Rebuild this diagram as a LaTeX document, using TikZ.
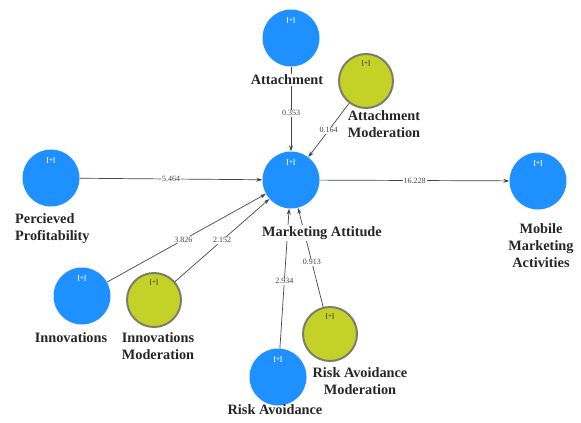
\documentclass[tikz,border=0pt]{standalone}
\usepackage{fontspec}
\setmainfont{Liberation Serif}
\usetikzlibrary{arrows.meta}
\definecolor{lvblue}{RGB}{30,144,255}
\definecolor{lvolive}{RGB}{196,210,40}
\definecolor{lvrim}{RGB}{125,125,105}
\definecolor{lvline}{RGB}{70,70,70}
\tikzset{
  latent/.style={circle,fill=lvblue,minimum size=57pt,inner sep=0pt},
  modvar/.style={circle,fill=lvolive,draw=lvrim,line width=2pt,minimum size=54pt,inner sep=0pt},
  lbl/.style={font=\bfseries\fontsize{14.3}{17}\selectfont,text=black!85,align=center,inner sep=1pt},
  coef/.style={font=\fontsize{8}{9}\selectfont,text=black!75,fill=white,inner sep=1pt},
  path/.style={draw=lvline,line width=0.7pt,-{Stealth[length=6pt,width=4pt]}},
  plus/.style={font=\bfseries\fontsize{7}{8}\selectfont,inner sep=0pt}
}
\begin{document}
\begin{tikzpicture}[x=1pt,y=-1pt]
\useasboundingbox[fill=white] (0,0) rectangle (581,423);
% nodes
\node[latent] (att) at (291,38) {};
\node[modvar] (attm) at (366,81) {};
\node[latent] (ma) at (291,180) {};
\node[latent] (pp) at (51,178) {};
\node[latent] (mma) at (538,181) {};
\node[latent] (inn) at (82,296) {};
\node[modvar] (innm) at (154,300) {};
\node[modvar] (ram) at (330,334) {};
\node[latent] (ra) at (278,377) {};
% [+] markers
\foreach \n in {att,ma,pp,mma,inn,ra}{\node[plus,text=white] at ([yshift=17pt]\n.center) {[+]};}
\foreach \n in {attm,innm,ram}{\node[plus,text=black!70] at ([yshift=17pt]\n.center) {[+]};}
% connectors
\draw[path] (att) -- node[coef,pos=0.55] {0.353} (ma);
\draw[path] (attm) -- node[coef,pos=0.5] {0.164} (ma);
\draw[path] (pp) -- node[coef,pos=0.5] {5.464} (ma);
\draw[path] (ma) -- node[coef,pos=0.5] {16.228} (mma);
\draw[path] (inn) -- node[coef,pos=0.48] {3.826} (ma);
\draw[path] (innm) -- node[coef,pos=0.5] {2.152} (ma);
\draw[path] (ra) -- node[coef,pos=0.48] {2.934} (ma);
\draw[path] (ram) -- node[coef,pos=0.45] {0.913} (ma);
% labels
\node[lbl,fill=white] (latt) at (287,80) {Attachment};
\node[lbl,fill=white] (lattm) at (384,124) {Attachment\\Moderation};
\node[lbl,fill=white] (lma) at (322,233) {Marketing Attitude};
\node[lbl,align=left,anchor=west] (lpp) at (14,229) {Percieved\\Profitability};
\node[lbl] (lmma) at (541,246) {Mobile\\Marketing\\Activities};
\node[lbl] (linn) at (71,338) {Innovations};
\node[lbl] (linnm) at (158,346) {Innovations\\Moderation};
\node[lbl] (lram) at (360,381) {Risk Avoidance\\Moderation};
\node[lbl] (lra) at (275,410) {Risk Avoidance};
\end{tikzpicture}
\end{document}
